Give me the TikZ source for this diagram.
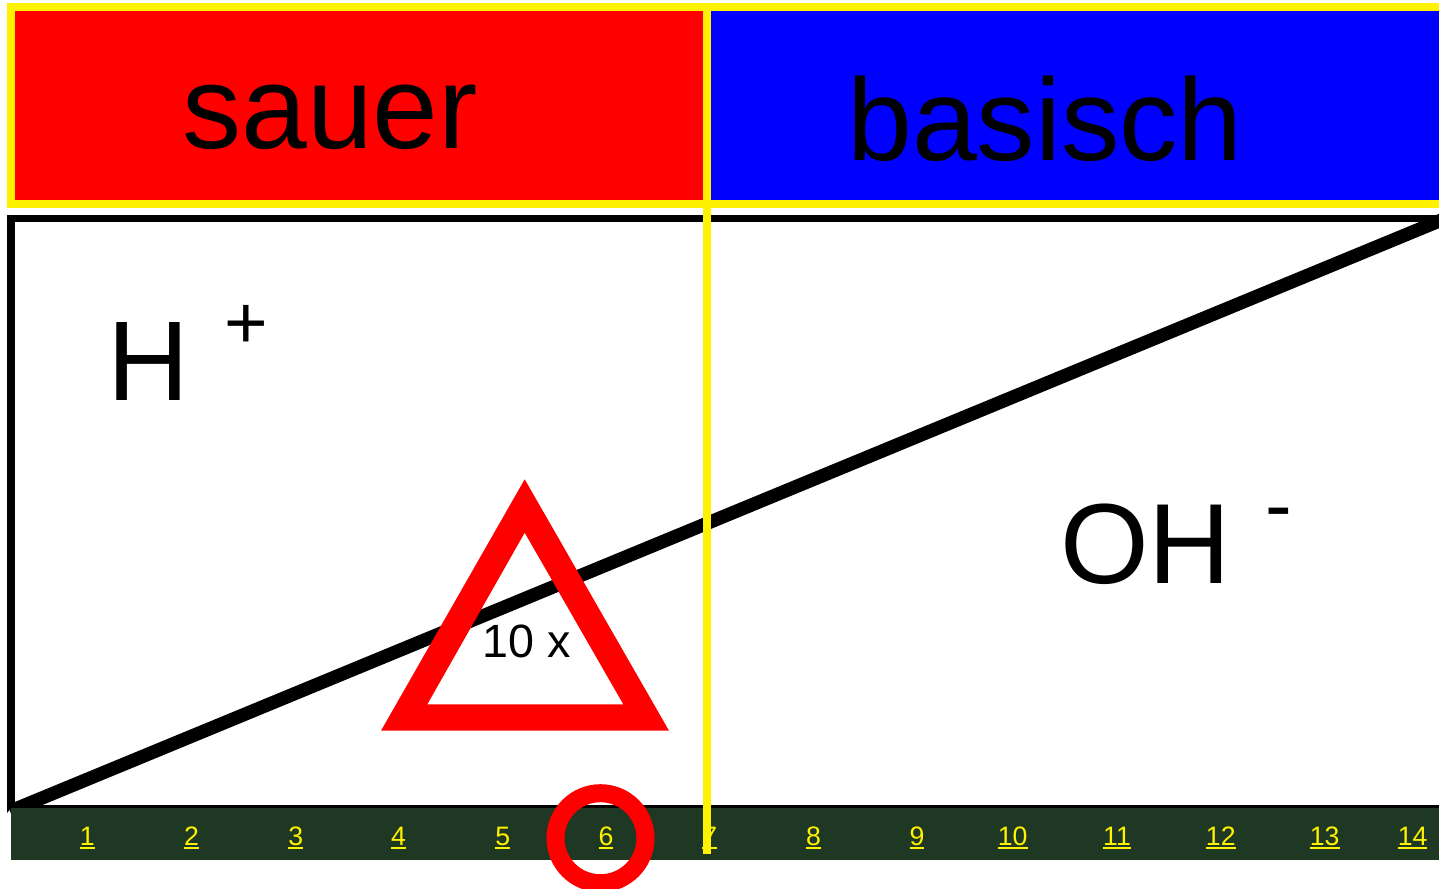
\documentclass[tikz,border=0pt]{standalone}
\usepackage{fontspec}
\setmainfont{Liberation Sans}
\definecolor{bandgreen}{HTML}{1F3823}
\newcommand{\pxfont}[1]{\fontsize{#1}{#1}\selectfont}
\tikzset{
  txt/.style={inner sep=0pt,outer sep=0pt,anchor=base,text=black},
  tick/.style={inner sep=0pt,outer sep=0pt,anchor=base,text=yellow,font=\fontsize{20}{24}\selectfont},
  blackedge/.style={fill=black,draw=none},
  yellowedge/.style={fill=yellow,draw=none}
}
\newcommand{\ulnum}[1]{\setbox0=\hbox{#1}\rlap{\rule[-3pt]{\wd0}{1.7pt}}\box0}
\begin{document}
\begin{tikzpicture}[x=0.75pt,y=-0.75pt]
\useasboundingbox (0,0) rectangle (1439,889);
\clip (0,0) rectangle (1439,889);
\fill[white] (0,0) rectangle (1439,889);
% header
\fill[yellow] (7,3) rectangle (1439,208);
\fill[red] (15,11) rectangle (702.5,200);
\fill[blue] (711,11) rectangle (1439,200);
% black frame
\fill[blackedge] (7,214.5) rectangle (1439,222);
\fill[blackedge] (7,214.5) rectangle (15,806);
\fill[blackedge] (7,800) -- (7,813) -- (11,808) -- (11,800) -- cycle;
\fill[blackedge] (7,804.5) rectangle (1439,808);
% diagonal
\coordinate (diagA) at (10,811.2);
\coordinate (diagB) at (1450,216.5);
\draw[black,line width=10pt] (diagA) -- (diagB);
% green band
\fill[bandgreen] (11,808) rectangle (1439,860);
% tick labels
\foreach \n/\x in {1/87.2,2/191.5,3/295.7,4/398.5,5/502.7,6/606,7/709.7,8/813.5,9/917,10/1012.7,11/1117,12/1220.8,13/1324.7,14/1412.6}
  \node[tick] (t\n) at (\x,845) {\ulnum{\n}};
% ring
\node[circle,draw=red,line width=13.5pt,minimum size=67.5pt,inner sep=0pt] (ring) at (600.5,838.2) {};
% triangle
\fill[red,even odd rule] (524.7,479.3) -- (669,730.7) -- (381,730.7) -- cycle
  (524.7,532.7) -- (623.3,704.3) -- (427.3,704.3) -- cycle;
% divider
\fill[yellowedge] (702.5,3) rectangle (711,854);
% texts
\node[txt,font=\pxfont{88.5}] (sauer) at (330,148) {sauer};
\node[txt,font=\pxfont{87.5}] (basisch) at (1045,160) {basisch};
\node[txt,font=\pxfont{85}] (h) at (148,400) {H};
\node[txt,font=\pxfont{56}] (plus) at (246.5,348) {+};
\node[txt,font=\pxfont{85.5}] (oh) at (1145.5,583) {OH};
\node[txt,font=\pxfont{60}] (minus) at (1279,532) {-};
\node[txt,font=\pxfont{35}] (tenx) at (526.5,657) {10 x};
\end{tikzpicture}
\end{document}
